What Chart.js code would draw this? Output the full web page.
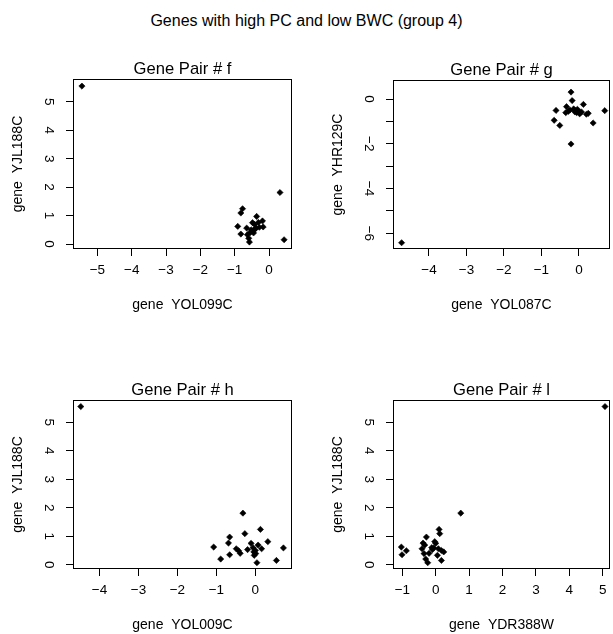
<!DOCTYPE html>
<html>
<head>
<meta charset="utf-8">
<script src="https://cdn.jsdelivr.net/npm/chart.js@4.4.1/dist/chart.umd.min.js"></script>
<style>
html,body{margin:0;padding:0;background:#fff;}
#wrap{position:relative;width:613px;height:634px;overflow:hidden;background:#fff;}
#wrap canvas{position:absolute;left:0;top:0;}
#main{position:absolute;left:0;top:11px;width:613px;text-align:center;font-family:'Liberation Sans',Arial,Helvetica,sans-serif;font-size:16px;line-height:20px;color:#000;white-space:pre;}
</style>
</head>
<body>
<div id="wrap">
  <div id="main">Genes with high PC and low BWC (group 4)</div>
  <canvas id="cf" width="613" height="634"></canvas>
  <canvas id="cg" width="613" height="634"></canvas>
  <canvas id="ch" width="613" height="634"></canvas>
  <canvas id="cl" width="613" height="634"></canvas>
</div>
<script>
// ---------------- data ----------------
const geneYJL188C = [5.55, 1.81, 1.24, 1.09, 0.97, 0.76, 0.62, 0.20, 0.35, 0.56, 0.49, 0.40, 0.75,
                     0.53, 0.69, 0.81, 0.56, 0.60, 0.50, 0.39, 0.33, 0.07, 0.15, 0.59, 0.45];
const geneYOL099C = [-5.45, 0.32, -0.77, -0.82, -0.36, -0.31, -0.91, -0.59, -0.82, -0.65, -0.45, -0.55, -0.48,
                     -0.40, -0.42, -0.19, -0.38, -0.17, -0.52, -0.45, -0.63, -0.57, 0.44, -0.28, -0.50];
const geneYOL009C = [-4.48, -0.32, 0.13, -0.27, -0.66, -0.69, -1.07, -0.89, -0.66, -0.49, -0.43, -0.39, -0.11,
                     -0.20, 0.07, 0.32, 0.16, -0.06, 0.00, 0.01, -0.03, 0.04, 0.54, 0.72, -0.04];
const geneYDR388W = [5.07, 0.75, 0.10, 0.12, -0.28, -0.38, -1.03, -0.30, -1.01, -0.41, -0.88, -0.20, 0.00,
                     -0.10, -0.33, -0.03, 0.08, -0.12, 0.17, -0.35, 0.05, -0.24, 0.17, -0.06, 0.24];
const geneYOL087C = [-4.73, -0.21, -0.18, -0.61, -0.66, -0.51, -0.33, -0.35, -0.24, -0.21, -0.11, -0.04, -0.06,
                     -0.01, 0.04, 0.12, 0.20, 0.25, 0.38, 0.69, -0.08, 0.02, -0.14, -0.28, 0.07];
const geneYHR129C = [-6.42, 0.31, -0.07, -0.51, -0.95, -1.18, -0.34, -0.61, -0.49, -2.01, -0.57, -0.46, -0.61,
                     -0.57, -0.61, -0.24, -0.68, -0.64, -1.07, -0.52, -0.52, -0.66, -0.44, -0.55, -0.58];

const ticksF_x = [-5, -4, -3, -2, -1, 0];
const ticksG_x = [-4, -3, -2, -1, 0];
const ticksH_x = [-4, -3, -2, -1, 0];
const ticksL_x = [-1, 0, 1, 2, 3, 4, 5];
const ticksYJL = [0, 1, 2, 3, 4, 5];
const ticksYHR = [-6, -5, -4, -3, -2, -1, 0];
const labelsYJL = ['0', '1', '2', '3', '4', '5'];
const labelsYHR = ['\u22126', '', '\u22124', '', '\u22122', '', '0'];

// ---------------- styling / layout ----------------
const FONT = "'Liberation Sans', Arial, Helvetica, sans-serif";
const TICK_FS = 13.5, LAB_FS = 14, TITLE_FS = 16.6;
const TICK_LEN = 7;
const Y_W = 64, X_H = 65;
const CW = 613, CH = 634;

Chart.defaults.font.family = FONT;
Chart.defaults.color = '#000';

const mctx = document.createElement('canvas').getContext('2d');
function textWidth(s, fs) { mctx.font = fs + 'px ' + FONT; return mctx.measureText(s).width; }
function fmt(v) { return v < 0 ? '\u2212' + Math.abs(v) : String(v); }

const boxPlugin = {
  id: 'rbox',
  afterDraw(chart) {
    const a = chart.chartArea, c = chart.ctx;
    const l = Math.round(a.left), t = Math.round(a.top), r = Math.round(a.right), b = Math.round(a.bottom);
    c.save();
    c.strokeStyle = '#000';
    c.lineWidth = 1;
    c.strokeRect(l + 0.5, t + 0.5, r - l - 1, b - t - 1);
    c.restore();
  }
};

function panel(id, p) {
  const lh = TITLE_FS * 1.2;
  const titlePB = Math.max(0, 10 - lh / 2);
  const widest = Math.max(...p.yLabels.map(s => textWidth(s, TICK_FS)));
  const yTickPad = 17 - widest / 2;
  const xLabels = p.xTicks.map(fmt);
  const xTickPad = 21 - TICK_LEN - TICK_FS * 0.6;
  const yTitlePad = Math.max(0, Y_W - 55 - LAB_FS * 0.6);
  const xTitlePad = Math.max(0, X_H - 57 - LAB_FS * 0.6);
  new Chart(document.getElementById(id), {
    type: 'scatter',
    data: {
      datasets: [{
        data: p.xs.map((x, i) => ({x: x, y: p.ys[i]})),
        pointStyle: 'rectRot',
        pointRadius: 3.1,
        pointBorderWidth: 0.6,
        backgroundColor: '#000',
        borderColor: '#000',
        showLine: false
      }]
    },
    options: {
      responsive: false,
      animation: false,
      events: [],
      layout: {
        autoPadding: false,
        padding: {
          left: p.area.left - Y_W,
          right: CW - p.area.right,
          top: p.area.top - lh - titlePB,
          bottom: Math.max(0, CH - p.area.bottom - X_H)
        }
      },
      plugins: {
        legend: {display: false},
        tooltip: {enabled: false},
        title: {
          display: true, text: p.title, fullSize: false, color: '#000',
          font: {size: TITLE_FS, weight: 'normal', family: FONT},
          padding: {top: 0, bottom: titlePB}
        }
      },
      scales: {
        x: {
          type: 'linear', position: 'bottom', bounds: 'data',
          min: p.xLim[0], max: p.xLim[1],
          afterBuildTicks: s => { s.ticks = p.xTicks.map(v => ({value: v})); },
          afterFit: s => { s.height = X_H; },
          grid: {display: true, drawOnChartArea: false, drawTicks: true, tickLength: TICK_LEN, color: '#000', lineWidth: 1},
          border: {display: false},
          ticks: {autoSkip: false, maxRotation: 0, minRotation: 0, padding: xTickPad, color: '#000',
                  font: {size: TICK_FS}, callback: (v, i) => xLabels[i]},
          title: {display: true, text: p.xTitle, color: '#000', font: {size: LAB_FS}, padding: {top: 0, bottom: xTitlePad}}
        },
        y: {
          type: 'linear', position: 'left', bounds: 'data',
          min: p.yLim[0], max: p.yLim[1],
          afterBuildTicks: s => { s.ticks = p.yTicks.map(v => ({value: v})); },
          afterFit: s => { s.width = Y_W; },
          grid: {display: true, drawOnChartArea: false, drawTicks: true, tickLength: TICK_LEN, color: '#000', lineWidth: 1},
          border: {display: false},
          ticks: {autoSkip: false, minRotation: -90, maxRotation: -90, crossAlign: 'center', padding: yTickPad,
                  color: '#000', font: {size: TICK_FS}, callback: (v, i) => p.yLabels[i]},
          title: {display: true, text: p.yTitle, color: '#000', font: {size: LAB_FS}, padding: {top: yTitlePad, bottom: 0}}
        }
      }
    },
    plugins: [boxPlugin]
  });
}

panel('cf', {
  title: 'Gene Pair # f', xTitle: 'gene  YOL099C', yTitle: 'gene  YJL188C',
  xs: geneYOL099C, ys: geneYJL188C, xTicks: ticksF_x, yTicks: ticksYJL, yLabels: labelsYJL,
  xLim: [-5.71, 0.67], yLim: [-0.175, 5.80],
  area: {left: 73, top: 79, right: 292, bottom: 249}
});
panel('cg', {
  title: 'Gene Pair # g', xTitle: 'gene  YOL087C', yTitle: 'gene  YHR129C',
  xs: geneYOL087C, ys: geneYHR129C, xTicks: ticksG_x, yTicks: ticksYHR, yLabels: labelsYHR,
  xLim: [-4.96, 0.83], yLim: [-6.70, 0.85],
  area: {left: 393, top: 80, right: 610, bottom: 249}
});
panel('ch', {
  title: 'Gene Pair # h', xTitle: 'gene  YOL009C', yTitle: 'gene  YJL188C',
  xs: geneYOL009C, ys: geneYJL188C, xTicks: ticksH_x, yTicks: ticksYJL, yLabels: labelsYJL,
  xLim: [-4.68, 0.94], yLim: [-0.15, 5.78],
  area: {left: 73, top: 400, right: 292, bottom: 569}
});
panel('cl', {
  title: 'Gene Pair # l', xTitle: 'gene  YDR388W', yTitle: 'gene  YJL188C',
  xs: geneYDR388W, ys: geneYJL188C, xTicks: ticksL_x, yTicks: ticksYJL, yLabels: labelsYJL,
  xLim: [-1.28, 5.22], yLim: [-0.15, 5.78],
  area: {left: 393, top: 400, right: 610, bottom: 569}
});
</script>
</body>
</html>
